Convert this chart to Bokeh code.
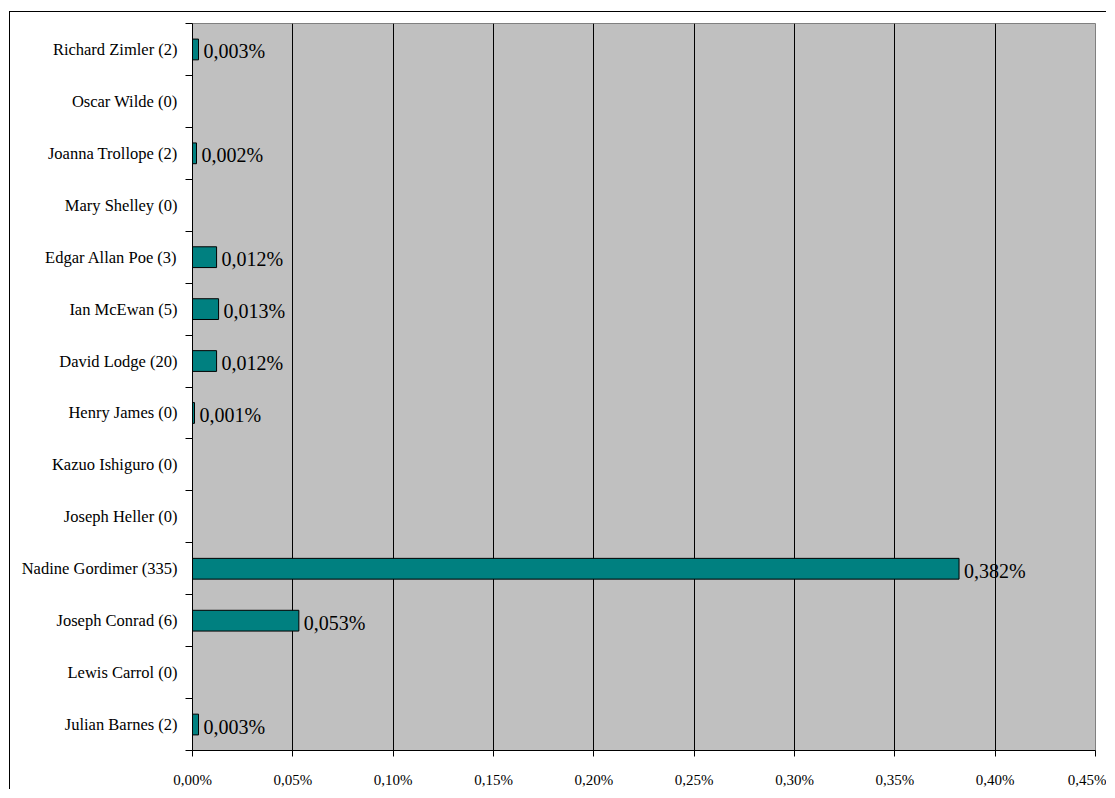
from bokeh.plotting import figure
from bokeh.models import FixedTicker, CustomJSTickFormatter, ColumnDataSource
from bokeh.embed import file_html
from bokeh.resources import INLINE
from bokeh.core.properties import value

# Data (bottom to top)
authors = ["Julian Barnes", "Lewis Carrol", "Joseph Conrad", "Nadine Gordimer",
           "Joseph Heller", "Kazuo Ishiguro", "Henry James", "David Lodge",
           "Ian McEwan", "Edgar Allan Poe", "Mary Shelley", "Joanna Trollope",
           "Oscar Wilde", "Richard Zimler"]
counts = [2, 0, 6, 335, 0, 0, 0, 20, 5, 3, 0, 2, 0, 2]
shares = [0.003, 0.0, 0.053, 0.382, 0.0, 0.0, 0.001, 0.012, 0.013, 0.012,
          0.0, 0.002, 0.0, 0.003]
x_ticks = [0.00, 0.05, 0.10, 0.15, 0.20, 0.25, 0.30, 0.35, 0.40, 0.45]

FONT = "Liberation Serif"
n = len(authors)
ys = [i + 0.5 for i in range(n)]
cat_labels = [f"{a} ({c})" for a, c in zip(authors, counts)]

src = ColumnDataSource(dict(y=ys, share=shares))
lab_src = ColumnDataSource(dict(
    y=[y for y, s in zip(ys, shares) if s > 0],
    share=[s for s in shares if s > 0],
    txt=[f"{s:.3f}".replace(".", ",") + "%" for s in shares if s > 0],
))

p = figure(width=1097, height=778, output_backend="svg", toolbar_location=None,
           x_range=(0, 0.45), y_range=(0, n),
           min_border_left=182, min_border_right=12,
           min_border_top=11, min_border_bottom=39)
p.styles = {"margin-left": "9px", "margin-top": "11px",
            "border-left": "1px solid black", "border-top": "1px solid black"}

p.background_fill_color = "#C0C0C0"
p.border_fill_color = "white"
p.outline_line_color = "#808080"
p.outline_line_width = 1

p.hbar(y="y", left=0, right="share", height=0.4, source=src,
       fill_color="#008080", line_color="black", line_width=1)

p.text(x="share", y="y", text="txt", source=lab_src, x_offset=5, y_offset=2,
       text_baseline="middle", text_align="left",
       text_font=value(FONT), text_font_size="20px", text_color="black")

# x axis
p.xaxis.ticker = FixedTicker(ticks=x_ticks)
p.xaxis.formatter = CustomJSTickFormatter(
    code="return tick.toFixed(2).replace('.', ',') + '%';")
p.xaxis.major_label_text_font = FONT
p.xaxis.major_label_text_font_size = "15px"
p.xaxis.major_label_text_color = "black"
p.xaxis.major_tick_out = 6
p.xaxis.major_tick_in = 0
p.xaxis.minor_tick_out = 0
p.xaxis.minor_tick_in = 0
p.xaxis.major_label_standoff = 15
p.xaxis.axis_line_color = "black"
p.xaxis.major_tick_line_color = "black"

# y axis
p.yaxis.ticker = FixedTicker(ticks=ys, minor_ticks=list(range(n + 1)))
p.yaxis.major_label_overrides = {y: l for y, l in zip(ys, cat_labels)}
p.yaxis.major_label_text_font = FONT
p.yaxis.major_label_text_font_size = "16.5px"
p.yaxis.major_label_text_color = "black"
p.yaxis.major_tick_out = 0
p.yaxis.major_tick_in = 0
p.yaxis.minor_tick_out = 7
p.yaxis.minor_tick_in = 0
p.yaxis.minor_tick_line_color = "black"
p.yaxis.major_label_standoff = 8
p.yaxis.axis_line_color = "black"

# grid
p.xgrid.ticker = FixedTicker(ticks=x_ticks[1:-1])
p.xgrid.grid_line_color = "black"
p.xgrid.grid_line_width = 1
p.ygrid.grid_line_color = None

open("out.html", "w").write(file_html(p, INLINE))
